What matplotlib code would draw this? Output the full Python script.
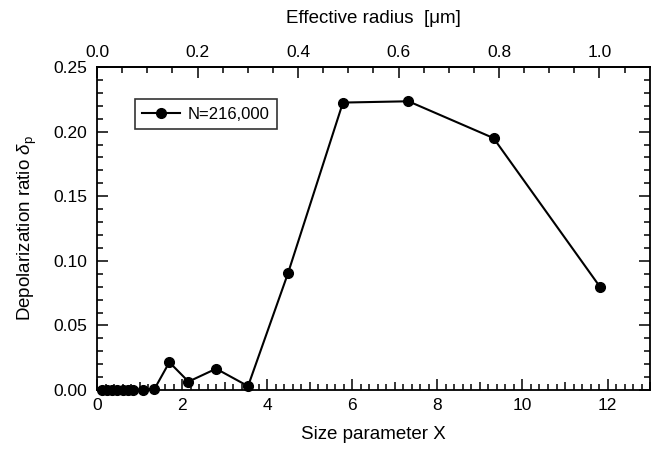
import matplotlib
matplotlib.use("Agg")
import matplotlib.pyplot as plt
import numpy as np
from matplotlib.ticker import MultipleLocator, FixedLocator, FuncFormatter

plt.rcParams['font.family'] = ['Liberation Sans', 'DejaVu Sans']
plt.rcParams['mathtext.fontset'] = 'custom'
plt.rcParams['mathtext.rm'] = 'Liberation Sans'
plt.rcParams['mathtext.it'] = 'Liberation Sans:italic'

# Data
size_param = [0.12, 0.24, 0.36, 0.48, 0.60, 0.72, 0.85, 1.07, 1.35,
              1.70, 2.15, 2.80, 3.55, 4.49, 5.78, 7.32, 9.32, 11.83]
depol = [0.0003, 0.0003, 0.0003, 0.0003, 0.0003, 0.0003, 0.0003, 0.0004, 0.0008,
         0.0215, 0.0065, 0.0165, 0.0030, 0.0905, 0.2225, 0.2235, 0.1950, 0.0795]
series_label = "N=216,000"
radius_ticks = [0.0, 0.2, 0.4, 0.6, 0.8, 1.0]
wavelength = 0.532  # um, X = 2*pi*r/lambda

fig = plt.figure(figsize=(6.6, 4.53), dpi=100)
ax = fig.add_axes([0.147, 0.139, 0.838, 0.713])

ax.plot(size_param, depol, '-o', color='black', lw=1.5, ms=7, label=series_label, clip_on=False, zorder=3)

ax.set_xlim(0, 13)
ax.set_ylim(0, 0.25)

ax.xaxis.set_major_locator(MultipleLocator(1))
ax.xaxis.set_minor_locator(MultipleLocator(0.2))
ax.xaxis.set_major_formatter(FuncFormatter(lambda v, p: f"{int(round(v))}" if int(round(v)) % 2 == 0 else ""))
ax.yaxis.set_major_locator(MultipleLocator(0.05))
ax.yaxis.set_minor_locator(MultipleLocator(0.01))
ax.yaxis.set_major_formatter(FuncFormatter(lambda v, p: f"{v:.2f}"))

ax.tick_params(axis='both', which='both', direction='in', labelsize=12.5, width=1.1)
ax.tick_params(axis='x', which='major', length=8, top=False, bottom=True, pad=6)
ax.tick_params(axis='x', which='minor', length=4, top=False, bottom=True)
ax.tick_params(axis='y', which='major', length=8, left=True, right=True, pad=7)
ax.tick_params(axis='y', which='minor', length=4, left=True, right=True)

for t, loc in zip(ax.xaxis.get_major_ticks(), ax.xaxis.get_majorticklocs()):
    if int(round(loc)) % 2 == 1:
        t.tick1line.set_markersize(6)

for s in ax.spines.values():
    s.set_linewidth(1.3)

k = 2 * np.pi / wavelength
sec = ax.secondary_xaxis('top', functions=(lambda x: x / k, lambda r: r * k))
sec.xaxis.set_major_locator(FixedLocator(radius_ticks))
sec.xaxis.set_minor_locator(FixedLocator(np.arange(0.05, 1.1, 0.05)))
sec.xaxis.set_major_formatter(FuncFormatter(lambda v, p: f"{v:.1f}"))
sec.tick_params(axis='x', which='major', direction='in', length=8, width=1.1, labelsize=12.5, pad=5)
sec.tick_params(axis='x', which='minor', direction='in', length=4, width=1.1)
sec.spines['top'].set_linewidth(1.3)
sec.set_xlabel("Effective radius  [\u03bcm]", fontsize=13.5, labelpad=16)

ax.set_xlabel("Size parameter X", fontsize=13.5, labelpad=9)
ax.set_ylabel(r"Depolarization ratio $\delta_{\rm p}$", fontsize=13.5, labelpad=10)

leg = ax.legend(loc='upper left', bbox_to_anchor=(0.068, 0.9), fontsize=12,
                frameon=True, fancybox=False, edgecolor='black', handlelength=2.3,
                borderpad=0.45, handletextpad=0.45, borderaxespad=0)
leg.get_frame().set_linewidth(1.2)

fig.savefig("out.png", dpi=100)
